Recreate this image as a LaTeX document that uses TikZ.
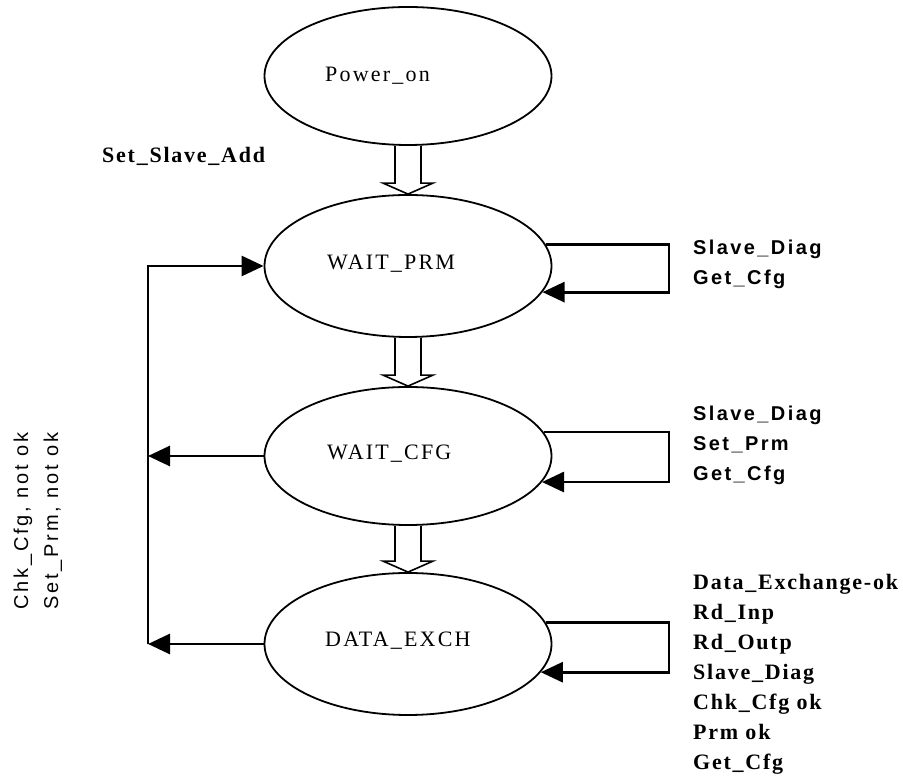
\documentclass[tikz,border=0pt]{standalone}
\usepackage{fontspec}
\setmainfont{Liberation Serif}
\setsansfont{Liberation Sans}
\usetikzlibrary{shapes.geometric,arrows.meta,calc}
\begin{document}
\begin{tikzpicture}[x=1pt,y=1pt,
  stbox/.style={ellipse,draw,line width=1.8pt,minimum width=287pt,minimum height=140pt,inner sep=0pt},
  sttext/.style={font=\fontsize{22}{26}\selectfont\addfontfeature{LetterSpace=10},inner sep=0pt,anchor=base west},
  conn/.style={line width=2.8pt},
  endtip/.style={-{Triangle[length=22pt,width=20pt]}},
  hollowarr/.style={line width=1.6pt,line join=miter},
  lblserif/.style={font=\fontsize{22}{30}\selectfont\bfseries\addfontfeature{LetterSpace=8},align=left,inner sep=0pt,anchor=base west},
  lblsans/.style={font=\sffamily\bfseries\fontsize{20}{30}\selectfont\addfontfeature{LetterSpace=12},align=left,inner sep=0pt,anchor=base west},
  lblleft/.style={font=\sffamily\fontsize{20}{30}\selectfont\addfontfeature{LetterSpace=14},align=left,inner sep=0pt,anchor=base west},
]
\useasboundingbox (0,0) rectangle (903,776);

% states
\node[stbox,minimum height=138pt] (pw) at (408,700) {};
\node[stbox,minimum height=142pt] (wp) at (408,510) {};
\node[stbox,minimum height=138pt] (wc) at (408,320) {};
\node[stbox,minimum height=142pt] (de) at (408,132) {};

\node[sttext] (pwt) at (325,694) {Power\_on};
\node[sttext] (wpt) at (327,506) {WAIT\_PRM};
\node[sttext] (wct) at (327,316) {WAIT\_CFG};
\node[sttext] (det) at (325,129) {DATA\_EXCH};

% hollow arrows
\foreach \a/\b in {pw/wp, wp/wc, wc/de}{
  \draw[hollowarr] ($(\a.south)+(-13,0)$) -- ($(\b.north)+(-13,11)$) -- ($(\b.north)+(-25,11)$)
     -- (\b.north) -- ($(\b.north)+(25,11)$) -- ($(\b.north)+(13,11)$) -- ($(\a.south)+(13,0)$);
}

% self loops
\coordinate (lx) at (669,0);
\draw[conn,endtip] (wp.9) -- (wp.9 -| lx) -- (wp.-11 -| lx) -- (wp.-11);
\draw[conn,endtip] (wc.10) -- (wc.10 -| lx) -- (wc.-11 -| lx) -- (wc.-11);
\draw[conn,endtip] (de.9) -- (de.9 -| lx) -- (de.-12 -| lx) -- (de.-12);

% left feedback
\coordinate (fx) at (148,0);
\draw[conn,endtip] (de.west -| fx) -- (wp.west -| fx) -- (wp.west);
\draw[conn,endtip] (wc.west) -- (wc.west -| fx);
\draw[conn,endtip] (de.west) -- (de.west -| fx);

% labels (base anchor of a multi-line node = baseline of its last line)
\node[lblserif] (lset) at (102,613) {Set\_Slave\_Add};
\node[lblsans] (lwp) at (693,491) {Slave\_Diag\\Get\_Cfg};
\node[lblsans] (lwc) at (693,295) {Slave\_Diag\\Set\_Prm\\Get\_Cfg};
\node[lblserif] (lde) at (693,6) {Data\_Exchange-ok\\Rd\_Inp\\Rd\_Outp\\Slave\_Diag\\Chk\_Cfg ok\\Prm ok\\Get\_Cfg};
\node[lblleft,rotate=90] (lleft) at (58,166) {Chk\_Cfg, not ok\\Set\_Prm, not ok};
\end{tikzpicture}
\end{document}
